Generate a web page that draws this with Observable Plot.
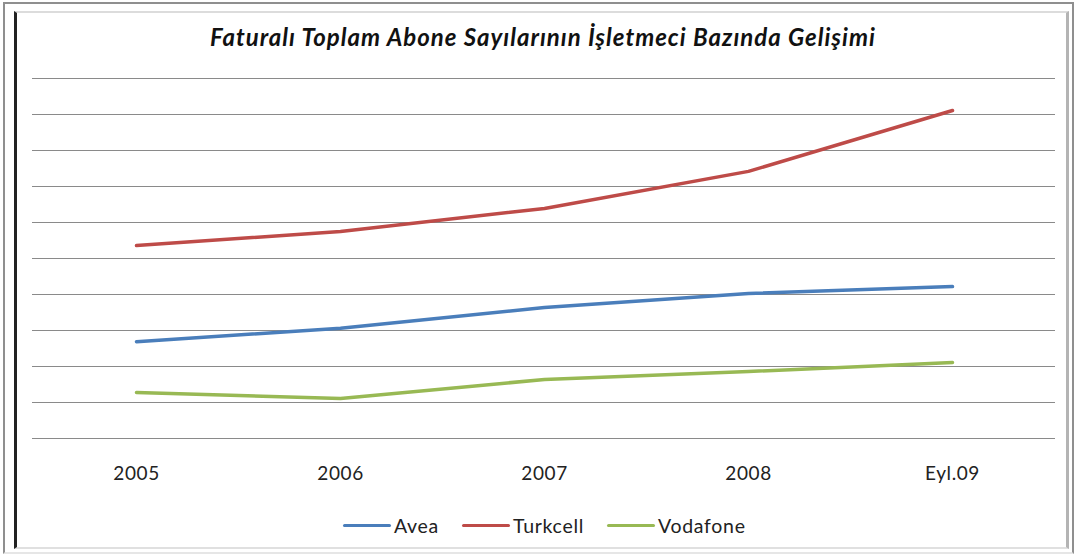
<!DOCTYPE html>
<html>
<head>
<meta charset="utf-8">
<script src="https://cdn.jsdelivr.net/npm/d3@7"></script>
<script src="https://cdn.jsdelivr.net/npm/@observablehq/plot@0.6"></script>
<style>
  html, body { margin: 0; padding: 0; background: #fff; }
  #page { position: relative; width: 1077px; height: 556px; overflow: hidden; background: #fff; font-family: Lato, "Open Sans", sans-serif; }
  #outer { position: absolute; left: 3px; top: 2px; width: 1067px; height: 548px; border: 2px solid #8f8f8f; border-bottom-color: #e6e6e6; }
  #inner { position: absolute; left: 14px; top: 11px; width: 1049px; height: 534px; border-left: 3px solid #222; border-top: 2px solid #dcdcdc; border-right: 3px solid #b4b4b4; border-bottom: 2px solid #e0e0e0; }
  #chart { position: absolute; left: 0; top: 0; }
  #title { position: absolute; left: 0; width: 1086px; top: 22px; text-align: center; font-size: 24px; letter-spacing: 1px; font-weight: bold; font-style: italic; color: #111; }
  #legend { position: absolute; left: 343px; top: 514px; display: flex; align-items: center; font-size: 19.5px; letter-spacing: 0.7px; color: #222; }
  .item { display: flex; align-items: center; margin-right: 23px; }
  .swatch { width: 48px; height: 3.5px; border-radius: 2px; margin-right: 3px; }
  #chart svg g[aria-label="x-axis tick label"] text { letter-spacing: 0.6px; }
</style>
</head>
<body>
<div id="page">
  <div id="outer"></div>
  <div id="inner"></div>
  <div id="chart"></div>
  <div id="title"></div>
  <div id="legend"></div>
</div>
<script>
const titleText = "Faturalı Toplam Abone Sayılarının İşletmeci Bazında Gelişimi";
const periods = ["2005", "2006", "2007", "2008", "Eyl.09"];
const seriesNames = ["Avea", "Turkcell", "Vodafone"];
const seriesColors = ["#4a7ebb", "#be4b48", "#98b954"];
const avea = [2.69, 3.06, 3.64, 4.03, 4.22];
const turkcell = [5.36, 5.75, 6.39, 7.42, 9.11];
const vodafone = [1.28, 1.11, 1.64, 1.86, 2.11];
const yDomain = [0, 10];

const seriesValues = [avea, turkcell, vodafone];
const rows = [];
seriesNames.forEach((name, i) => {
  periods.forEach((p, j) => rows.push({series: name, period: p, value: seriesValues[i][j]}));
});

document.getElementById("title").textContent = titleText;

const chart = Plot.plot({
  width: 1077,
  height: 556,
  marginLeft: 32,
  marginRight: 22,
  marginTop: 78,
  marginBottom: 118,
  style: {fontFamily: "Lato, 'Open Sans', sans-serif", fontSize: "19px", color: "#222", background: "transparent"},
  x: {type: "point", domain: periods, padding: 0.5, label: null, tickSize: 0, tickPadding: 28},
  y: {domain: yDomain, axis: null},
  color: {domain: seriesNames, range: seriesColors},
  marks: [
    Plot.gridY({ticks: 10, stroke: "#8a8a8a", strokeOpacity: 1, strokeWidth: 1.2}),
    Plot.axisX({tickSize: 0, tickPadding: 28, fontSize: 19}),
    Plot.line(rows, {x: "period", y: "value", z: "series", stroke: "series", strokeWidth: 3.5, strokeLinecap: "round", strokeLinejoin: "round"})
  ]
});
document.getElementById("chart").appendChild(chart);

const legend = document.getElementById("legend");
seriesNames.forEach((name, i) => {
  const item = document.createElement("div");
  item.className = "item";
  const sw = document.createElement("div");
  sw.className = "swatch";
  sw.style.background = seriesColors[i];
  const label = document.createElement("span");
  label.textContent = name;
  item.appendChild(sw);
  item.appendChild(label);
  legend.appendChild(item);
});
</script>
</body>
</html>
